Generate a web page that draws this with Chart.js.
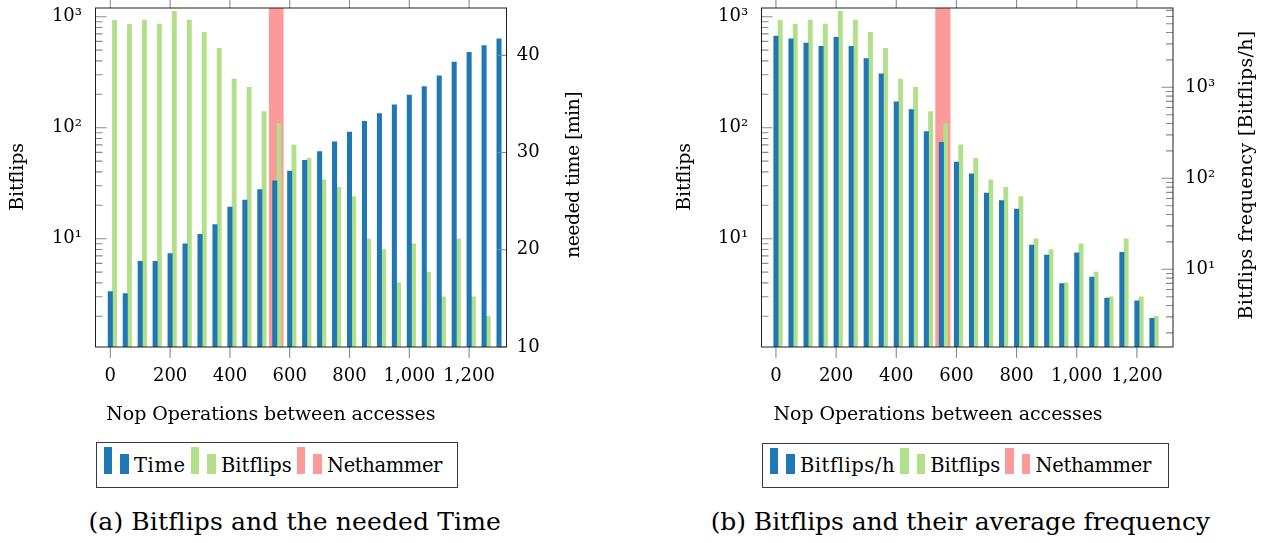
<!DOCTYPE html>
<html>
<head>
<meta charset="utf-8">
<script src="https://cdn.jsdelivr.net/npm/chart.js@4.4.1/dist/chart.umd.min.js"></script>
<style>
html,body{margin:0;padding:0;background:#fff;}
body{width:1277px;height:543px;position:relative;overflow:hidden;font-family:'DejaVu Serif','Liberation Serif',serif;color:#000;}
canvas{position:absolute;top:0;}
#c1{left:0;}
#c2{left:640px;}
.legend{position:absolute;box-sizing:border-box;border:1.3px solid #3a3a3a;background:#fff;}
.legend .bar{position:absolute;}
.legend .txt{position:absolute;font-size:19.5px;line-height:19.5px;white-space:nowrap;}
.caption{position:absolute;font-size:25px;line-height:25px;white-space:nowrap;}
</style>
</head>
<body>
<canvas id="c1" width="640" height="440"></canvas>
<canvas id="c2" width="637" height="440"></canvas>
<div id="leg1" class="legend" style="left:95.7px;top:442.3px;width:362px;height:45.4px"></div>
<div id="leg2" class="legend" style="left:761.6px;top:442.7px;width:407.4px;height:45.3px"></div>
<div id="cap1" class="caption" data-center="294.7" data-w="412" style="top:508.8px">(a) Bitflips and the needed Time</div>
<div id="cap2" class="caption" data-center="960.4" data-w="499" style="top:508.8px">(b) Bitflips and their average frequency</div>
<script>
// ---------------- data ----------------
const nopsTime = [0,50,100,150,200,250,300,350,400,450,500,550,600,650,700,750,800,850,900,950,1000,1050,1100,1150,1200,1250,1300];
const timeMinutes = [15.7,15.5,18.8,18.8,19.6,20.6,21.6,22.6,24.4,25.1,26.2,27.1,28.1,29.2,30.1,31.1,32.1,33.2,34.0,34.9,35.9,36.8,37.9,39.3,40.3,41.0,41.7];
const nopsFlips = [0,50,100,150,200,250,300,350,400,450,500,550,600,650,700,750,800,850,900,950,1000,1050,1100,1150,1200,1250];
const bitflips = [927,853,933,859,1117,933,722,519,274,231,140,109,70,53,34,29,24,10,8,4,9,5,3,10,3,2];
const bitflipsPerHour = [3660,3400,3070,2820,3540,2820,2070,1410,690,569,326,249,151,112,69,57,46,18.4,14.3,6.95,15.2,8.2,4.84,15.4,4.5,2.9];
const nethammerNops = [555];
const nethammerValue = [100000];   // full-height marker (clipped at the top)
const xTickValues = [0,200,400,600,800,1000,1200];
const logTickValues = [10,100,1000];
const timeTickValues = [10,20,30,40];

// ---------------- styling ----------------
const FONT = "'DejaVu Serif', 'Liberation Serif', serif";
Chart.defaults.font.family = FONT;
Chart.defaults.color = '#000';
const BLUE = '#1f78b4', GREEN = '#b2df8a', PINK = '#fb9a99';
const TICK_SIZE = 18;

function pts(xs, ys) { return xs.map((x, i) => ({x: x, y: ys[i]})); }
function fix(dim, size) {
  return s => { s[dim] = size; s.paddingTop = 0; s.paddingBottom = 0; s.paddingLeft = 0; s.paddingRight = 0; };
}
function useTicks(values) { return s => { s.ticks = values.map(v => ({value: v})); }; }
const SUP = {0:'⁰',1:'¹',2:'²',3:'³',4:'⁴'};
const powLabel = v => '10' + SUP[Math.round(Math.log10(v))];
const numLabel = v => Number(v).toLocaleString('en-US');
const noGrid = {display:false, drawTicks:false};

function xAxis(min, max, height) {
  return {type:'linear', position:'bottom', min:min, max:max, offset:false,
    grid:noGrid, border:{display:false},
    ticks:{font:{size:TICK_SIZE}, padding:18.9, maxRotation:0, minRotation:0, autoSkip:false, callback:numLabel},
    afterBuildTicks:useTicks(xTickValues), afterFit:fix('height', height)};
}
function shiftedAxis(min, max, shift) {
  return {type:'linear', display:false, offset:false, min:min - shift, max:max - shift};
}
function logAxis(position, min, max, width, pad) {
  return {type:'logarithmic', position:position, min:min, max:max,
    grid:noGrid, border:{display:false},
    ticks:{font:{size:TICK_SIZE}, padding:pad, autoSkip:false, callback:powLabel},
    afterBuildTicks:useTicks(logTickValues), afterFit:fix('width', width)};
}

const frame = {
  id:'frame',
  afterDraw(chart, _args, o) {
    const {ctx, chartArea:a, scales} = chart;
    ctx.save();
    ctx.lineWidth = 1.1;
    ctx.strokeStyle = '#8a8a8a';
    ctx.beginPath();
    const sx = scales.x;
    sx.ticks.forEach(t => {
      const px = sx.getPixelForValue(t.value);
      ctx.moveTo(px, a.bottom); ctx.lineTo(px, a.bottom + 11);
      ctx.moveTo(px, a.top); ctx.lineTo(px, a.top - 11);
    });
    (o.yTicks || []).forEach(cfg => {
      const s = scales[cfg.axis];
      const x0 = cfg.side === 'left' ? a.left : a.right;
      const dir = cfg.side === 'left' ? 1 : -1;
      const marks = [];
      if (cfg.log) {
        for (let e = -1; e <= 5; e++) for (let m = 1; m <= 9; m++) {
          const v = m * Math.pow(10, e);
          if (v >= s.min && v <= s.max) marks.push([v, m === 1 ? cfg.major : cfg.minor]);
        }
      } else {
        s.ticks.forEach(t => marks.push([t.value, cfg.major]));
      }
      marks.forEach(([v, len]) => {
        const py = s.getPixelForValue(v);
        ctx.moveTo(x0, py); ctx.lineTo(x0 + dir * len, py);
      });
    });
    ctx.stroke();
    ctx.strokeStyle = '#1e1e1e';
    ctx.lineWidth = 1;
    ctx.strokeRect(a.left, a.top, a.right - a.left, a.bottom - a.top);
    ctx.fillStyle = '#000';
    (o.titles || []).forEach(t => {
      ctx.save();
      ctx.font = o.titleSize + 'px ' + FONT;
      const hasLS = 'letterSpacing' in ctx;
      if (hasLS) ctx.letterSpacing = '0px';
      const w0 = ctx.measureText(t.text).width;
      let sxf = 1;
      if (t.w) {
        if (hasLS) ctx.letterSpacing = ((t.w - w0) / t.text.length).toFixed(2) + 'px';
        else sxf = t.w / w0;
      }
      ctx.translate(t.x, t.y);
      if (t.rotate) ctx.rotate(-Math.PI / 2);
      ctx.scale(sxf, 1);
      ctx.textAlign = 'center';
      ctx.textBaseline = 'alphabetic';
      ctx.fillText(t.text, 0, 0);
      ctx.restore();
    });
    ctx.restore();
  }
};

const common = {
  responsive:false, animation:false, events:[],
  layout:{padding:{top:8, left:0, right:0, bottom:0}}
};

const chart1 = new Chart(document.getElementById('c1'), {
  type:'bar',
  data:{datasets:[
    {label:'Time', data:pts(nopsTime, timeMinutes), xAxisID:'x', yAxisID:'yTime',
     backgroundColor:BLUE, barThickness:4.4, grouped:false, order:1},
    {label:'Bitflips', data:pts(nopsFlips, bitflips), xAxisID:'xShift', yAxisID:'yFlips',
     backgroundColor:GREEN, barThickness:4.2, grouped:false, order:2},
    {label:'Nethammer', data:pts(nethammerNops, nethammerValue), xAxisID:'x', yAxisID:'yFlips',
     backgroundColor:PINK, barThickness:14, grouped:false, order:3}
  ]},
  options:Object.assign({}, common, {
    plugins:{legend:{display:false}, tooltip:{enabled:false},
      frame:{titleSize:19,
        yTicks:[{axis:'yFlips', side:'left', log:true, major:11, minor:7},
                {axis:'yTime', side:'right', log:false, major:9}],
        titles:[{text:'Bitflips', x:23.4, y:177, rotate:true, w:67},
                {text:'needed time [min]', x:578.5, y:175, rotate:true, w:166},
                {text:'Nop Operations between accesses', x:270.8, y:420, w:329}]}},
    scales:{
      x:xAxis(-49.5, 1325, 93),
      xShift:shiftedAxis(-49.5, 1325, 14.2),
      yFlips:logAxis('left', 1.058, 1198, 95.5, 13.5),
      yTime:{type:'linear', position:'right', min:10, max:44.87,
        grid:noGrid, border:{display:false},
        ticks:{font:{size:TICK_SIZE}, padding:10.2, autoSkip:false, callback:v => String(v)},
        afterBuildTicks:useTicks(timeTickValues), afterFit:fix('width', 133.5)}
    }
  }),
  plugins:[frame]
});

const chart2 = new Chart(document.getElementById('c2'), {
  type:'bar',
  data:{datasets:[
    {label:'Bitflips/h', data:pts(nopsFlips, bitflipsPerHour), xAxisID:'x', yAxisID:'yRate',
     backgroundColor:BLUE, barThickness:4.4, grouped:false, order:1},
    {label:'Bitflips', data:pts(nopsFlips, bitflips), xAxisID:'xShift', yAxisID:'yFlips',
     backgroundColor:GREEN, barThickness:4.2, grouped:false, order:2},
    {label:'Nethammer', data:pts(nethammerNops, nethammerValue), xAxisID:'x', yAxisID:'yFlips',
     backgroundColor:PINK, barThickness:14.5, grouped:false, order:3}
  ]},
  options:Object.assign({}, common, {
    plugins:{legend:{display:false}, tooltip:{enabled:false},
      frame:{titleSize:19,
        yTicks:[{axis:'yFlips', side:'left', log:true, major:11, minor:7},
                {axis:'yRate', side:'right', log:true, major:11.5, minor:7}],
        titles:[{text:'Bitflips', x:50, y:177, rotate:true, w:67},
                {text:'Bitflips frequency [Bitflips/h]', x:611.7, y:175, rotate:true, w:288},
                {text:'Nop Operations between accesses', x:298, y:420, w:329}]}},
    scales:{
      x:xAxis(-48, 1320, 93),
      xShift:shiftedAxis(-48, 1320, 14.2),
      yFlips:logAxis('left', 1.058, 1198, 121.5, 13.3),
      yRate:logAxis('right', 1.40, 7435, 104, 12)
    }
  }),
  plugins:[frame]
});

// text helper: stretch/shrink letter spacing so a text occupies a given width
function fitWidth(el, target) {
  el.style.letterSpacing = '0px';
  const w0 = el.getBoundingClientRect().width;
  const n = el.textContent.length;
  el.style.letterSpacing = ((target - w0) / n).toFixed(2) + 'px';
  return el.getBoundingClientRect().width;
}

const legendWidths = {
  leg1: [51.7, 70.3, 115],
  leg2: [94.7, 69.4, 115.5]
};
function buildLegend(id, chart) {
  const box = document.getElementById(id);
  let x = 7;
  chart.data.datasets.forEach((ds, i) => {
    const b1 = document.createElement('div');
    b1.className = 'bar';
    Object.assign(b1.style, {left:x + 'px', top:'4.1px', width:'8.5px', height:'26.6px', background:ds.backgroundColor});
    const b2 = document.createElement('div');
    b2.className = 'bar';
    Object.assign(b2.style, {left:(x + 16.5) + 'px', top:'10.7px', width:'8.5px', height:'20px', background:ds.backgroundColor});
    const t = document.createElement('span');
    t.className = 'txt';
    t.textContent = ds.label;
    t.style.left = (x + 30.3) + 'px';
    t.style.top = '12.6px';
    box.appendChild(b1); box.appendChild(b2); box.appendChild(t);
    const w = fitWidth(t, legendWidths[id][i]);
    x += 30.3 + w + 5;
  });
}
buildLegend('leg1', chart1);
buildLegend('leg2', chart2);

['cap1', 'cap2'].forEach(id => {
  const el = document.getElementById(id);
  const w = fitWidth(el, parseFloat(el.dataset.w));
  el.style.left = (parseFloat(el.dataset.center) - w / 2) + 'px';
});
</script>
</body>
</html>
